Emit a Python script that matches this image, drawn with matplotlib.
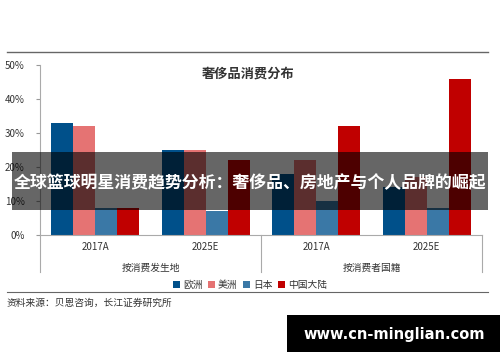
import numpy as np
import matplotlib
matplotlib.use("Agg")
import matplotlib.pyplot as plt
from matplotlib.patches import Rectangle

plt.rcParams['font.family'] = ['Noto Sans CJK SC', 'DejaVu Sans']

# 数据
periods = ['2017A', '2025E', '2017A', '2025E']
groups = ['按消费发生地', '按消费者国籍']
regions = ['欧洲', '美洲', '日本', '中国大陆']
europe = [33, 25, 18, 14]
america = [32, 25, 22, 17]
japan = [8, 7, 10, 8]
china = [8, 22, 32, 46]
colors = ['#00508A', '#E57373', '#3A78A6', '#C00000']

fig = plt.figure(figsize=(5, 3.62), dpi=100)
ax = fig.add_axes([40 / 500, 1 - 235 / 362, 442 / 500, 170 / 362])

x = np.arange(len(periods))
w = 0.2
for i, (vals, c, lab) in enumerate(zip([europe, america, japan, china], colors, regions)):
    ax.bar(x + (i - 1.5) * w, vals, width=w, color=c, label=lab, edgecolor='none')

ax.set_xlim(-0.5, 3.5)
ax.set_ylim(0, 50)
ax.set_yticks(range(0, 51, 10))
ax.set_yticklabels([f'{v}%' for v in range(0, 51, 10)], fontsize=7, color='#333333')
ax.tick_params(axis='y', length=3, color='#999999', pad=8)
ax.set_xticks([])
for s in ['top', 'right']:
    ax.spines[s].set_visible(False)
for s in ['left', 'bottom']:
    ax.spines[s].set_color('#aaaaaa')

# 类别分隔线和标签
for xv in [-0.5, 1.5, 3.5]:
    ax.plot([xv, xv], [0, -11], color='#aaaaaa', lw=0.8, clip_on=False)
for xi, p in zip(x, periods):
    ax.text(xi, -3.6, p, ha='center', va='center', fontsize=7, color='#333333')
for gi, g in enumerate(groups):
    ax.text(gi * 2 + 0.5, -9.8, g, ha='center', va='center', fontsize=7, color='#333333')

fig.text(248 / 500, 1 - 74 / 362, '奢侈品消费分布', ha='center', va='center',
         fontsize=9.5, fontweight='bold', color='#333333')

leg = fig.legend(loc='center', bbox_to_anchor=(250 / 500, 1 - 285 / 362), ncol=4,
                 fontsize=7, frameon=False, handlelength=0.7, handleheight=0.7,
                 handletextpad=0.3, columnspacing=0.6)
for t in leg.get_texts():
    t.set_color('#333333')

# 横线
fig.add_artist(plt.Line2D([7 / 500, 488 / 500], [1 - 52 / 362] * 2, color='#666666', lw=1))
fig.add_artist(plt.Line2D([7 / 500, 488 / 500], [1 - 292 / 362] * 2, color='#666666', lw=0.8))
fig.text(7 / 500, 1 - 303 / 362, '资料来源：贝恩咨询，长江证券研究所', ha='left', va='center',
         fontsize=7, color='#333333')

# 标题遮罩
fig.add_artist(Rectangle((12 / 500, 1 - 210 / 362), 476 / 500, 58 / 362,
                         transform=fig.transFigure, color='black', alpha=0.6, lw=0))
fig.text(250 / 500, 1 - 183 / 362, '全球篮球明星消费趋势分析：奢侈品、房地产与个人品牌的崛起',
         ha='center', va='center', fontsize=12.2, fontweight='bold', color='white')

# 水印
fig.add_artist(Rectangle((287 / 500, 1 - 352 / 362), 213 / 500, 37 / 362,
                         transform=fig.transFigure, color='black', lw=0))
fig.text(394 / 500, 1 - 334 / 362, 'www.cn-minglian.com', ha='center', va='center',
         fontsize=10.5, fontweight='bold', color='white', family='DejaVu Sans')

fig.savefig('out.png', dpi=100)
